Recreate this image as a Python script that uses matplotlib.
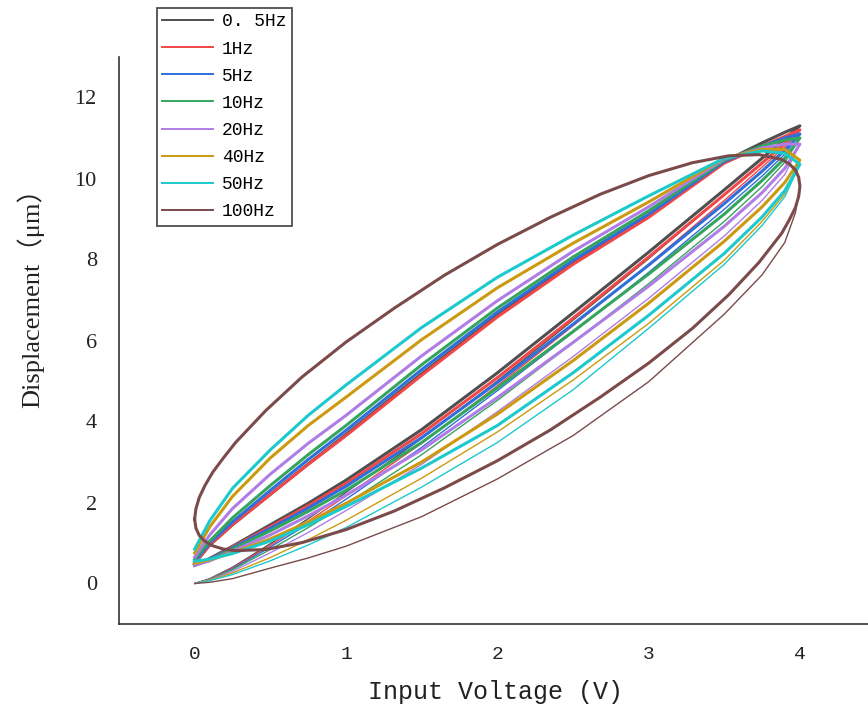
import matplotlib
matplotlib.use("Agg")
import matplotlib.pyplot as plt
from matplotlib.lines import Line2D

# Input voltage samples (V) used by the loop branches and the first-rise curves
V_GRID = [0, 0.1, 0.25, 0.5, 0.75, 1, 1.5, 2, 2.5, 3, 3.5, 3.75, 3.9, 4]

# Displacement (um): rising branch, falling branch, first rise from rest
F05_RISE = [0.45, 0.62, 0.92, 1.45, 1.98, 2.55, 3.80, 5.20, 6.68, 8.18, 9.72, 10.50, 10.98, 11.30]
F05_FALL = [0.50, 0.95, 1.45, 2.20, 2.95, 3.68, 5.18, 6.62, 7.93, 9.08, 10.42, 10.88, 11.14, 11.30]
F05_INIT = [0, 0.12, 0.40, 0.98, 1.60, 2.25, 3.58, 5.00, 6.50, 8.02, 9.60, 10.40, 10.90, 11.30]

F1_RISE = [0.45, 0.60, 0.90, 1.40, 1.92, 2.47, 3.70, 5.08, 6.55, 8.06, 9.60, 10.38, 10.86, 11.20]
F1_FALL = [0.50, 0.95, 1.45, 2.20, 2.94, 3.65, 5.14, 6.58, 7.88, 9.04, 10.38, 10.80, 11.04, 11.20]
F1_INIT = [0, 0.11, 0.38, 0.94, 1.54, 2.16, 3.46, 4.88, 6.36, 7.88, 9.46, 10.28, 10.78, 11.20]

F5_RISE = [0.45, 0.60, 0.88, 1.36, 1.86, 2.40, 3.60, 4.96, 6.40, 7.86, 9.38, 10.18, 10.70, 11.10]
F5_FALL = [0.55, 1.00, 1.52, 2.30, 3.06, 3.78, 5.28, 6.70, 7.98, 9.12, 10.42, 10.80, 11.00, 11.10]
F5_INIT = [0, 0.10, 0.36, 0.90, 1.47, 2.08, 3.36, 4.76, 6.20, 7.68, 9.24, 10.06, 10.60, 11.10]

F10_RISE = [0.45, 0.58, 0.85, 1.30, 1.78, 2.30, 3.48, 4.83, 6.22, 7.64, 9.12, 9.95, 10.50, 11.00]
F10_FALL = [0.60, 1.05, 1.62, 2.42, 3.18, 3.90, 5.40, 6.80, 8.06, 9.20, 10.45, 10.80, 10.95, 11.00]
F10_INIT = [0, 0.10, 0.34, 0.84, 1.38, 1.96, 3.18, 4.52, 5.94, 7.40, 8.94, 9.80, 10.40, 11.00]

F20_RISE = [0.45, 0.56, 0.80, 1.20, 1.67, 2.18, 3.30, 4.59, 5.95, 7.34, 8.82, 9.65, 10.25, 10.85]
F20_FALL = [0.65, 1.20, 1.85, 2.70, 3.46, 4.15, 5.62, 6.98, 8.20, 9.30, 10.48, 10.75, 10.85, 10.85]
F20_INIT = [0, 0.09, 0.30, 0.76, 1.26, 1.80, 2.94, 4.24, 5.60, 7.04, 8.58, 9.46, 10.10, 10.85]

F40_RISE = [0.50, 0.58, 0.76, 1.10, 1.52, 1.98, 3.00, 4.18, 5.50, 6.92, 8.45, 9.30, 9.90, 10.45]
F40_FALL = [0.75, 1.40, 2.15, 3.10, 3.90, 4.60, 6.02, 7.30, 8.40, 9.42, 10.50, 10.72, 10.72, 10.45]
F40_INIT = [0, 0.08, 0.26, 0.64, 1.08, 1.56, 2.60, 3.74, 5.02, 6.42, 7.98, 8.94, 9.62, 10.45]

F50_RISE = [0.55, 0.60, 0.74, 1.05, 1.45, 1.90, 2.85, 3.90, 5.20, 6.62, 8.15, 9.05, 9.70, 10.35]
F50_FALL = [0.85, 1.55, 2.35, 3.30, 4.15, 4.90, 6.32, 7.56, 8.60, 9.57, 10.50, 10.68, 10.62, 10.35]
F50_INIT = [0, 0.07, 0.22, 0.56, 0.95, 1.38, 2.38, 3.48, 4.78, 6.30, 7.88, 8.84, 9.55, 10.35]

# 100 Hz loop is nearly elliptical, so it is sampled more finely near the ends
V_100 = [0, 0.008, 0.03, 0.068, 0.12, 0.19, 0.27, 0.47, 0.71, 1.0, 1.32, 1.65, 2.0,
         2.35, 2.68, 3.0, 3.29, 3.53, 3.73, 3.88, 3.93, 3.97, 3.992, 4.0]
F100_RISE = [1.59, 1.37, 1.19, 1.04, 0.93, 0.85, 0.81, 0.84, 1.01, 1.33, 1.79, 2.36, 3.03,
             3.79, 4.60, 5.44, 6.30, 7.13, 7.93, 8.65, 8.98, 9.28, 9.56, 9.81]
F100_FALL = [1.59, 1.84, 2.12, 2.42, 2.75, 3.10, 3.48, 4.27, 5.10, 5.96, 6.80, 7.61, 8.37,
             9.04, 9.61, 10.07, 10.39, 10.56, 10.59, 10.47, 10.36, 10.21, 10.03, 9.81]
V_100_INIT = [0, 0.1, 0.25, 0.5, 0.75, 1, 1.5, 2, 2.5, 3, 3.5, 3.75, 3.9, 3.97, 4]
F100_INIT = [0, 0.03, 0.12, 0.38, 0.63, 0.92, 1.65, 2.58, 3.65, 4.98, 6.65, 7.62, 8.42, 9.15, 9.80]

LABELS = ["0. 5Hz", "1Hz", "5Hz", "10Hz", "20Hz", "40Hz", "50Hz", "100Hz"]
COLORS = ["#4f4f4f", "#f04848", "#2f6fdc", "#35a55e", "#b07de6", "#cc9a10", "#1cc9cc", "#7b4a4a"]

SERIES = [
    (V_GRID, F05_RISE, F05_FALL, V_GRID, F05_INIT),
    (V_GRID, F1_RISE, F1_FALL, V_GRID, F1_INIT),
    (V_GRID, F5_RISE, F5_FALL, V_GRID, F5_INIT),
    (V_GRID, F10_RISE, F10_FALL, V_GRID, F10_INIT),
    (V_GRID, F20_RISE, F20_FALL, V_GRID, F20_INIT),
    (V_GRID, F40_RISE, F40_FALL, V_GRID, F40_INIT),
    (V_GRID, F50_RISE, F50_FALL, V_GRID, F50_INIT),
    (V_100, F100_RISE, F100_FALL, V_100_INIT, F100_INIT),
]

W, H = 868, 708
fig = plt.figure(figsize=(W / 100, H / 100), dpi=100)
ax = fig.add_axes([119 / W, 84 / H, 749 / W, 567 / H])

for (vv, rise, fall, vi, init), color in zip(SERIES, COLORS):
    ax.plot(vi, init, color=color, lw=1.0, solid_capstyle="round")
    ax.plot(list(vv) + list(vv[::-1]), list(rise) + list(fall[::-1]),
            color=color, lw=2.2, solid_joinstyle="round")

ax.set_xlim(-0.5, 4.45)
ax.set_ylim(-1, 13)
ax.set_xticks([0, 1, 2, 3, 4])
ax.set_yticks([0, 2, 4, 6, 8, 10, 12])
ax.tick_params(length=0, pad=16)
for lab in ax.get_xticklabels():
    lab.set_fontfamily("Liberation Mono")
    lab.set_fontsize(14)
    lab.set_color("#222222")
for lab in ax.get_yticklabels():
    lab.set_fontfamily("Liberation Serif")
    lab.set_fontsize(16)
    lab.set_color("#222222")

for side in ("top", "right"):
    ax.spines[side].set_visible(False)
for side in ("left", "bottom"):
    ax.spines[side].set_linewidth(1.2)
    ax.spines[side].set_color("#333333")

fig.text(495 / W, 1 - 692 / H, "Input Voltage (V)", family="Liberation Mono",
         fontsize=18, ha="center", va="center", color="#222222")
fig.text(30 / W, 1 - 292 / H, "Displacement（μm）",
         family=["Liberation Serif", "Noto Sans CJK SC"], fontsize=19,
         rotation=90, ha="center", va="center", color="#222222")

handles = [Line2D([], [], color=c, lw=1.4) for c in COLORS]
leg = fig.legend(handles, LABELS, loc="upper left", bbox_to_anchor=(157 / W, 1 - 8 / H),
                 prop={"family": "Liberation Mono", "size": 13},
                 frameon=True, fancybox=False, shadow=False,
                 handlelength=2.8, handletextpad=0.5, labelspacing=0.56,
                 borderpad=0.3, borderaxespad=0.0)
leg.get_frame().set_edgecolor("#222222")
leg.get_frame().set_linewidth(1.3)

fig.savefig("out.png", dpi=100)
